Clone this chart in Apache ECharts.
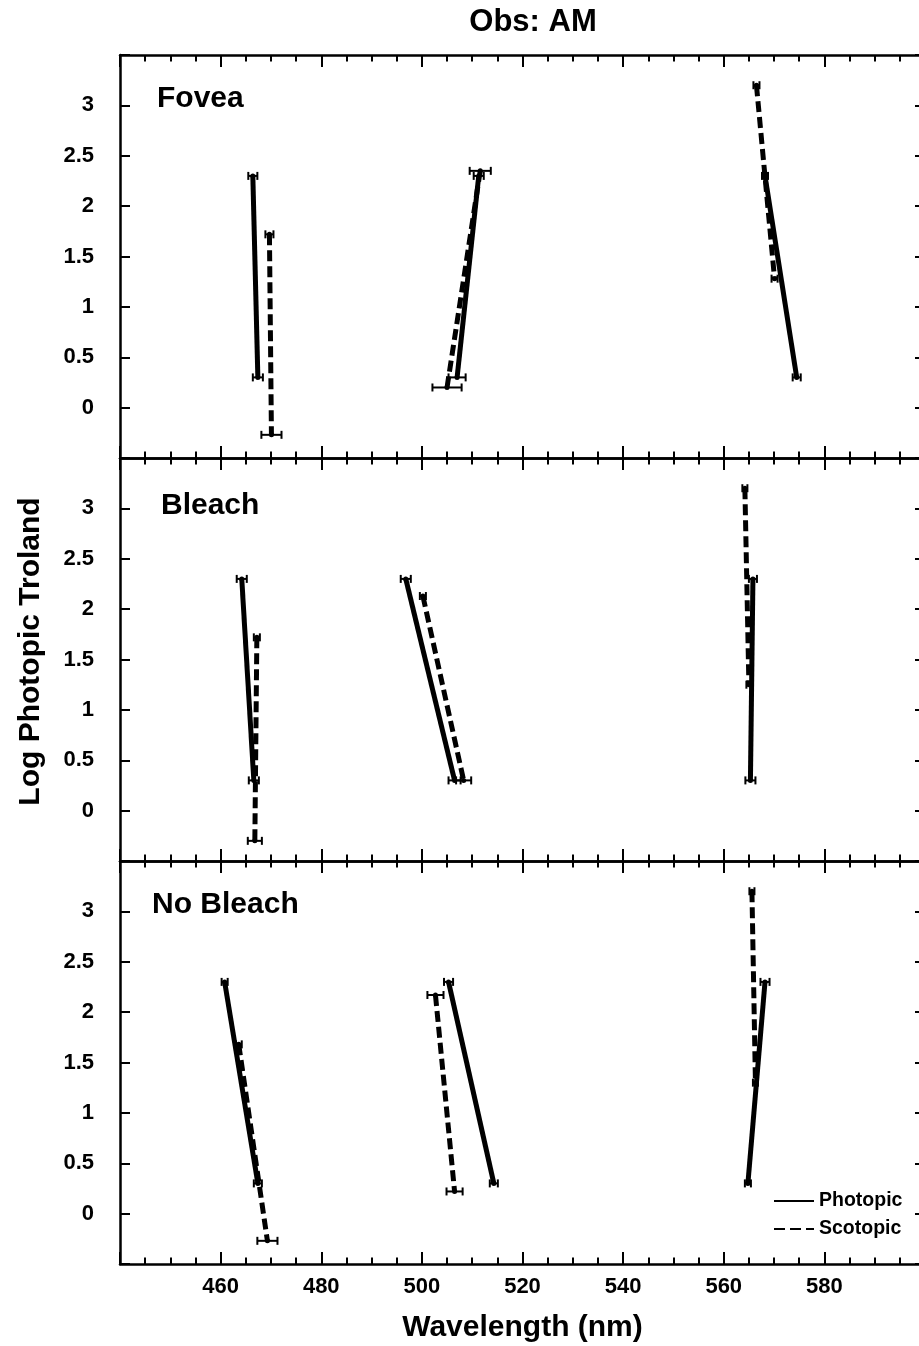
<!DOCTYPE html>
<html>
<head>
<meta charset="utf-8">
<script src="https://cdn.jsdelivr.net/npm/echarts@6/dist/echarts.min.js"></script>
<style>
  html, body { margin: 0; padding: 0; background: #fff; }
  #chart { width: 919px; height: 1346px; }
</style>
</head>
<body>
<div id="chart"></div>
<script>
// Each segment: [wavelength nm, log photopic troland, ± half-width of the error bar in nm]
const panelNames = ['Fovea', 'Bleach', 'No Bleach'];

const foveaPhotopic = [
  [[466.4, 2.30, 0.9], [467.4, 0.30, 1.0]],
  [[511.3, 2.30, 1.0], [507.0, 0.30, 1.7]],
  [[568.2, 2.30, 0.6], [574.5, 0.30, 0.8]]
];
const foveaScotopic = [
  [[469.7, 1.72, 0.8], [470.1, -0.27, 2.0]],
  [[511.6, 2.35, 2.1], [505.0, 0.20, 2.9]],
  [[566.5, 3.20, 0.6], [570.1, 1.28, 0.6]]
];
const bleachPhotopic = [
  [[464.2, 2.30, 1.0], [466.6, 0.30, 1.0]],
  [[496.8, 2.30, 1.0], [506.5, 0.30, 1.2]],
  [[565.8, 2.30, 0.8], [565.3, 0.30, 1.0]]
];
const bleachScotopic = [
  [[467.2, 1.72, 0.6], [466.8, -0.30, 1.4]],
  [[500.2, 2.13, 0.6], [508.3, 0.30, 1.5]],
  [[564.2, 3.20, 0.5], [565.0, 1.25, 0.5]]
];
const noBleachPhotopic = [
  [[460.8, 2.30, 0.6], [467.4, 0.30, 0.8]],
  [[505.3, 2.30, 0.9], [514.3, 0.30, 0.8]],
  [[568.2, 2.30, 0.9], [564.8, 0.30, 0.6]]
];
const noBleachScotopic = [
  [[463.6, 1.68, 0.6], [469.3, -0.27, 2.0]],
  [[502.7, 2.17, 1.6], [506.5, 0.22, 1.6]],
  [[565.6, 3.20, 0.5], [566.3, 1.30, 0.5]]
];

const xTickValues = [460, 480, 500, 520, 540, 560, 580];
const yTickValues = [0, 0.5, 1, 1.5, 2, 2.5, 3];

const panelData = [
  { photopic: foveaPhotopic, scotopic: foveaScotopic },
  { photopic: bleachPhotopic, scotopic: bleachScotopic },
  { photopic: noBleachPhotopic, scotopic: noBleachScotopic }
];

const FONT = '"Liberation Sans", Arial, Helvetica, sans-serif';
const GRID_LEFT = 120, GRID_WIDTH = 805, GRID_HEIGHT = 403;
const gridTops = [55, 458, 861];
const DASH = [11, 5];

const chart = echarts.init(document.getElementById('chart'), null, { renderer: 'canvas' });

const grids = [], xAxes = [], yAxes = [], series = [];

const axisLine = { show: true, onZero: false, lineStyle: { color: '#000', width: 2.5 } };

gridTops.forEach((top, i) => {
  // The plot area runs slightly past the right edge of the page
  grids.push({ left: GRID_LEFT, top: top, width: GRID_WIDTH, height: GRID_HEIGHT,
               containLabel: false, outerBoundsMode: 'none' });
  const isBottom = i === gridTops.length - 1;
  const xBase = {
    type: 'value', gridIndex: i, min: 440, max: 600, interval: 20,
    axisLine: axisLine,
    axisTick: { show: true, inside: true, length: 12, lineStyle: { color: '#000', width: 2 } },
    minorTick: { show: true, splitNumber: 4, length: 6.5, lineStyle: { color: '#000', width: 2 } },
    splitLine: { show: false }
  };
  xAxes.push(Object.assign({}, xBase, {
    position: 'bottom',
    axisLabel: {
      show: isBottom, margin: 12, color: '#000', fontFamily: FONT, fontWeight: 'bold', fontSize: 22,
      formatter: v => (xTickValues.indexOf(v) >= 0 ? String(v) : '')
    },
    name: isBottom ? 'Wavelength (nm)' : '',
    nameLocation: 'middle', nameGap: 49,
    nameTextStyle: { color: '#000', fontFamily: FONT, fontWeight: 'bold', fontSize: 30 }
  }));
  xAxes.push(Object.assign({}, xBase, { position: 'top', axisLabel: { show: false } }));

  const yBase = {
    type: 'value', gridIndex: i, min: -0.5, max: 3.5, interval: 0.5,
    axisLine: axisLine,
    axisTick: { show: true, inside: true, length: 10, lineStyle: { color: '#000', width: 2 } },
    splitLine: { show: false }
  };
  yAxes.push(Object.assign({}, yBase, {
    position: 'left',
    axisLabel: {
      show: true, margin: 26, color: '#000', fontFamily: FONT, fontWeight: 'bold', fontSize: 22,
      formatter: v => (yTickValues.indexOf(v) >= 0 ? String(v) : '')
    },
    name: i === 1 ? 'Log Photopic Troland' : '',
    nameLocation: 'middle', nameGap: 74, nameRotate: 90,
    nameTextStyle: { color: '#000', fontFamily: FONT, fontWeight: 'bold', fontSize: 30, padding: [0, 0, 0, 16] }
  }));
  yAxes.push(Object.assign({}, yBase, { position: 'right', axisLabel: { show: false } }));

  // Lines and horizontal error bars for both adaptation conditions
  [['Photopic', panelData[i].photopic, 'solid'], ['Scotopic', panelData[i].scotopic, DASH]].forEach(([name, segments, dash]) => {
    segments.forEach(seg => {
      series.push({
        name: name, type: 'line', xAxisIndex: 2 * i, yAxisIndex: 2 * i,
        data: seg.map(p => [p[0], p[1]]),
        symbol: 'none', silent: true, animation: false, z: 3,
        lineStyle: { color: '#000', width: 5, type: dash, cap: 'butt' }
      });
    });
    series.push({
      name: name + ' error', type: 'custom', xAxisIndex: 2 * i, yAxisIndex: 2 * i,
      data: segments.flat(), silent: true, animation: false, z: 4,
      renderItem: (params, api) => {
        const x = api.value(0), y = api.value(1), e = api.value(2);
        const l = api.coord([x - e, y]), r = api.coord([x + e, y]), c = api.coord([x, y]);
        const cap = 4;
        const st = { stroke: '#000', lineWidth: 2 };
        return {
          type: 'group',
          children: [
            { type: 'line', shape: { x1: l[0], y1: l[1], x2: r[0], y2: r[1] }, style: st },
            { type: 'line', shape: { x1: l[0], y1: l[1] - cap, x2: l[0], y2: l[1] + cap }, style: st },
            { type: 'line', shape: { x1: r[0], y1: r[1] - cap, x2: r[0], y2: r[1] + cap }, style: st },
            { type: 'circle', shape: { cx: c[0], cy: c[1], r: 2.5 }, style: { fill: '#000' } }
          ]
        };
      }
    });
  });
});

const option = {
  backgroundColor: '#fff',
  animation: false,
  grid: grids,
  xAxis: xAxes,
  yAxis: yAxes,
  series: series,
  legend: {
    data: ['Photopic', 'Scotopic'],
    orient: 'vertical', left: 773, top: 1191, padding: 0,
    itemWidth: 40, itemHeight: 14, itemGap: 8,
    selectedMode: false,
    itemStyle: { opacity: 0 },
    lineStyle: { width: 2 },
    textStyle: { color: '#000', fontFamily: FONT, fontWeight: 'bold', fontSize: 19.5 }
  },
  graphic: [
    { type: 'text', x: 533, y: 22,
      style: { text: 'Obs: AM', fill: '#000', font: 'bold 31px ' + FONT, textAlign: 'center', textVerticalAlign: 'middle' } }
  ].concat(panelNames.map((n, i) => ({
    type: 'text', x: [157, 161, 152][i], y: [99, 506, 905][i],
    style: { text: n, fill: '#000', font: 'bold 30px ' + FONT, textAlign: 'left', textVerticalAlign: 'middle' }
  })))
};

chart.setOption(option);
</script>
</body>
</html>
